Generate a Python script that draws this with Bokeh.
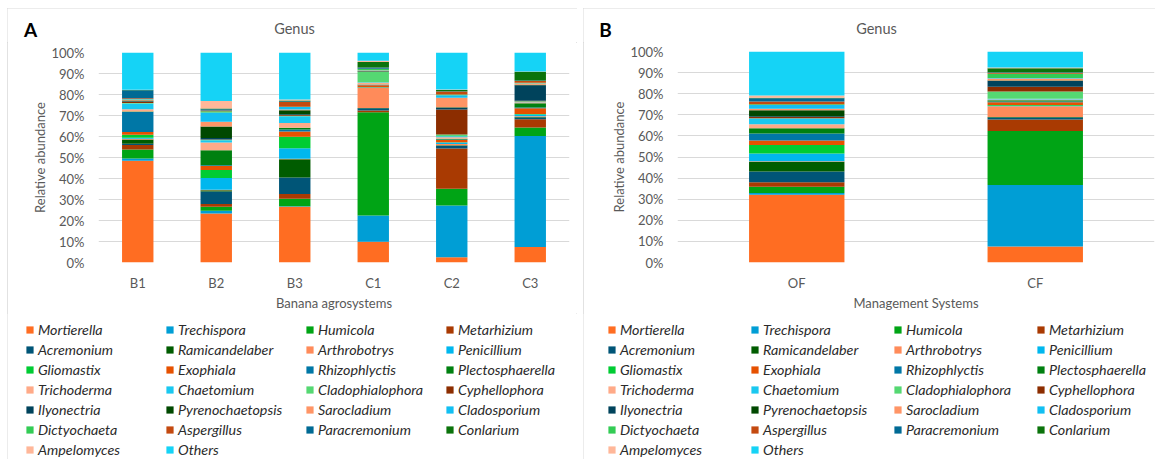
from bokeh.plotting import figure
from bokeh.models import (ColumnDataSource, FactorRange, Range1d,
                          PrintfTickFormatter, FixedTicker)
from bokeh.layouts import row, column
from bokeh.core.properties import value
from bokeh.embed import file_html
from bokeh.resources import INLINE

# Genera in stacking order (bottom to top) and their colours
genera = ["Mortierella", "Trechispora", "Humicola", "Metarhizium",
          "Acremonium", "Ramicandelaber", "Arthrobotrys", "Penicillium",
          "Gliomastix", "Exophiala", "Rhizophlyctis", "Plectosphaerella",
          "Trichoderma", "Chaetomium", "Cladophialophora", "Cyphellophora",
          "Ilyonectria", "Pyrenochaetopsis", "Sarocladium", "Cladosporium",
          "Dictyochaeta", "Aspergillus", "Paracremonium", "Conlarium",
          "Ampelomyces", "Others"]
colors = ["#FF6D22", "#009ED5", "#00A415", "#A93A02",
          "#005577", "#005C00", "#FF8B5A", "#00B7EE",
          "#00CC33", "#E65100", "#0077A6", "#008010",
          "#FFAA88", "#1AC8F0", "#55D872", "#8C2D00",
          "#00435C", "#004800", "#FF9566", "#12BFF2",
          "#33CC55", "#C44A10", "#006A94", "#0B730B",
          "#FFB799", "#15D3F6"]

# Banana agrosystems: relative abundance (%) per genus, same order as genera
agrosystems = ["B1", "B2", "B3", "C1", "C2", "C3"]
b1 = [48.4, 1.1, 4.3, 2.2, 0.6, 2.0, 0.3, 0.5, 1.4, 1.3, 9.6, 0.2, 1.1,
      2.7, 0.3, 0.5, 0.3, 0.3, 0.4, 0.2, 0.2, 0.3, 3.8, 0.1, 0.2, 17.7]
b2 = [23.3, 1.3, 1.9, 1.3, 6.0, 0.6, 0.3, 5.5, 3.8, 2.0, 0.3, 7.2, 3.6,
      1.1, 0.2, 0.2, 0.7, 5.5, 2.2, 4.4, 0.6, 0.4, 0.6, 0.3, 3.6, 23.1]
b3 = [26.5, 0.3, 3.6, 2.2, 7.9, 8.7, 0.2, 5.0, 5.5, 2.5, 0.9, 0.9, 2.2,
      3.3, 0.2, 0.3, 0.4, 1.9, 0.4, 1.1, 0.2, 2.2, 0.4, 0.3, 0.5, 22.4]
c1 = [9.9, 12.5, 49.2, 0.8, 1.0, 0.2, 9.5, 0.2, 0.2, 0.9, 0.2, 0.2, 0.8,
      0.2, 5.0, 0.1, 0.2, 0.1, 0.2, 0.2, 0.5, 0.2, 0.6, 2.6, 0.6, 3.9]
c2 = [2.5, 24.6, 8.0, 19.2, 1.3, 0.2, 0.6, 0.7, 0.2, 1.0, 0.3, 0.3, 0.8,
      0.4, 0.8, 12.0, 0.8, 0.2, 4.6, 1.2, 0.3, 1.4, 0.2, 0.5, 0.3, 17.6]
c3 = [7.4, 52.8, 4.1, 3.9, 0.9, 0.2, 0.3, 0.9, 0.2, 2.8, 0.3, 2.0, 0.5,
      0.3, 0.2, 0.2, 7.4, 0.3, 0.5, 0.2, 0.2, 0.8, 0.3, 4.1, 0.2, 9.0]

# Management systems: organic (OF) and conventional (CF) farming
systems = ["OF", "CF"]
of = [32.1, 0.8, 3.0, 2.1, 5.1, 4.6, 0.3, 3.6, 4.1, 2.1, 3.3, 2.5, 1.9,
      2.7, 0.2, 0.6, 0.3, 2.8, 0.8, 1.8, 0.3, 1.3, 1.5, 0.3, 1.0, 20.9]
cf = [7.6, 29.1, 25.6, 5.5, 0.9, 0.2, 5.1, 0.3, 0.3, 1.4, 0.3, 0.6, 0.4,
      0.3, 3.5, 2.2, 2.7, 0.3, 0.9, 0.3, 1.9, 0.5, 0.3, 1.9, 0.3, 7.6]

y_ticks = list(range(0, 101, 10))

FONT = "Lato"
GREY = "#595959"
PAGE_H = 459
ROW_H = 20
HEAD_H = 34
CHART_H = 271


def no_frame_align(f):
    # keep each strip's frame independent of its neighbours in the column
    if "frame_align" in f.properties():
        f.frame_align = False


def bare_figure(width, height, x_range, y_range):
    f = figure(width=width, height=height, x_range=x_range, y_range=y_range,
               output_backend="svg", toolbar_location=None,
               x_axis_type=None, y_axis_type=None, min_border=0)
    f.outline_line_color = None
    f.grid.visible = False
    no_frame_align(f)
    return f


def make_panel(letter, cats, columns, xlabel, width, border_left,
               border_right, border_top, letter_xy, title_xy, legend_x,
               label_w, margin, frame_css):
    # header strip: panel letter and chart title
    head = bare_figure(width, HEAD_H, Range1d(0, width), Range1d(HEAD_H, 0))
    head.text(x=[letter_xy[0]], y=[letter_xy[1]], text=[letter],
              text_font=value(FONT), text_font_style="bold",
              text_font_size="19px", text_color="black",
              text_align="center", text_baseline="middle")
    head.text(x=[title_xy[0]], y=[title_xy[1]], text=["Genus"],
              text_font=value(FONT), text_font_size="14.5px",
              text_color=GREY, text_align="center", text_baseline="middle")

    # stacked bar chart
    data = {"cat": cats}
    for i, g in enumerate(genera):
        data[g] = [col[i] for col in columns]
    src = ColumnDataSource(data)

    p = figure(x_range=FactorRange(factors=cats, range_padding=0),
               y_range=Range1d(0, 100),
               width=width, height=CHART_H,
               output_backend="svg", toolbar_location=None,
               min_border_left=border_left, min_border_right=border_right,
               min_border_top=border_top,
               min_border_bottom=CHART_H - border_top - 211)
    p.outline_line_color = None
    no_frame_align(p)

    p.vbar_stack(genera, x="cat", width=0.4, source=src,
                 fill_color=colors, line_color=None)

    p.yaxis.ticker = FixedTicker(ticks=y_ticks)
    p.yaxis.formatter = PrintfTickFormatter(format="%d%%")
    for ax in (p.xaxis[0], p.yaxis[0]):
        ax.axis_line_color = None
        ax.major_tick_line_color = None
        ax.minor_tick_line_color = None
        ax.major_tick_out = 0
        ax.major_tick_in = 0
        ax.major_label_text_font = FONT
        ax.major_label_text_font_size = "13px"
        ax.major_label_text_color = GREY
        ax.axis_label_text_font = FONT
        ax.axis_label_text_font_size = "13px"
        ax.axis_label_text_font_style = "normal"
        ax.axis_label_text_color = GREY
    p.yaxis.axis_label = "Relative abundance"
    p.yaxis.major_label_standoff = 14
    p.yaxis.axis_label_standoff = 0
    p.xaxis.axis_label = xlabel
    p.xaxis.major_label_standoff = 12
    p.xaxis.axis_label_standoff = 1

    p.xgrid.grid_line_color = None
    p.ygrid.ticker = FixedTicker(ticks=y_ticks)
    p.ygrid.grid_line_color = "#D9D9D9"
    p.ygrid.grid_line_width = 1

    # legend strip: one swatch per genus, four columns
    leg_top = margin[0] + HEAD_H + CHART_H
    leg_h = PAGE_H - leg_top
    leg = bare_figure(width, leg_h, Range1d(0, 1), Range1d(0, 1))
    for g, c in zip(genera, colors):
        # a single out-of-view bar so that the legend swatch gets drawn
        leg.vbar(x=[-5], top=[0], width=0.5, fill_color=c, line_color=None,
                 legend_label=g)
    lg = leg.legend[0]
    lg.orientation = "horizontal"
    lg.ncols = 4
    n_rows = -(-len(genera) // 4)
    first_row_center = 329.5
    legend_top = first_row_center - ROW_H / 2 - leg_top
    lg.location = (legend_x, leg_h - legend_top - n_rows * ROW_H)
    lg.label_text_font = FONT
    lg.label_text_font_style = "italic"
    lg.label_text_font_size = "14.3px"
    lg.label_text_color = "#2B2B2B"
    lg.glyph_width = 9
    lg.glyph_height = 9
    lg.label_standoff = 4
    lg.label_width = label_w
    lg.label_height = ROW_H
    lg.spacing = 0
    lg.padding = 0
    lg.margin = 0
    lg.border_line_color = None
    lg.background_fill_alpha = 0

    col = column(head, p, leg, spacing=0)
    col.margin = margin
    col.styles = frame_css
    return col


panel_a = make_panel("A", agrosystems, [b1, b2, b3, c1, c2, c3],
                     "Banana agrosystems", 570, 91, 8, 10,
                     (30 - 7, 21), (287, 20), 18, 127, (8, 0, 0, 7),
                     {"outline": "1px solid #D9D9D9",
                      "outline-offset": "-1px"})
panel_b = make_panel("B", systems, [of, cf],
                     "Management Systems", 574, 94, 3, 9,
                     (605 - 583, 21), (293, 20), 24, 130, (8, 0, 0, 6),
                     {"outline": "1px solid #D9D9D9",
                      "outline-offset": "-1px",
                      "clip-path": "inset(0px 2px 0px 0px)"})

layout = row(panel_a, panel_b, spacing=0)
open("out.html", "w").write(file_html(layout, INLINE))
